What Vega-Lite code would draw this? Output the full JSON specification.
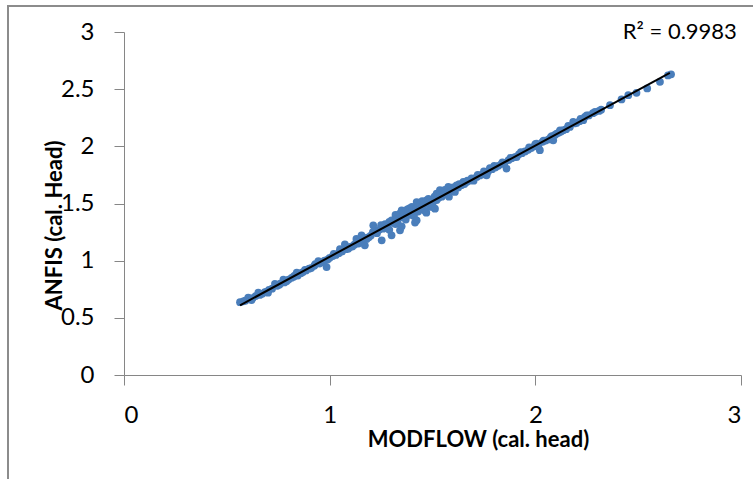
{
  "$schema": "https://vega.github.io/schema/vega-lite/v6.json",
  "autosize": "none",
  "padding": {"left": 124, "top": 32, "right": 12, "bottom": 104},
  "width": 617,
  "height": 343,
  "config": {
    "view": {"stroke": null},
    "font": "Lato",
    "axis": {
      "grid": false,
      "domainColor": "#868686",
      "tickColor": "#868686",
      "tickSize": 10,
      "labelColor": "#000000",
      "labelFont": "Lato",
      "labelFontSize": 24,
      "titleFont": "Lato",
      "titleFontSize": 22,
      "titleFontWeight": "bold",
      "titleColor": "#000000"
    }
  },
  "data": {
    "values": [
      {"modflow": 0.564, "anfis": 0.637}, {"modflow": 0.58, "anfis": 0.645}, {"modflow": 0.59, "anfis": 0.65},
      {"modflow": 0.604, "anfis": 0.676}, {"modflow": 0.615, "anfis": 0.665}, {"modflow": 0.62, "anfis": 0.655}, {"modflow": 0.625, "anfis": 0.672},
      {"modflow": 0.64, "anfis": 0.69}, {"modflow": 0.653, "anfis": 0.72}, {"modflow": 0.66, "anfis": 0.7},
      {"modflow": 0.672, "anfis": 0.71}, {"modflow": 0.685, "anfis": 0.725}, {"modflow": 0.695, "anfis": 0.73}, {"modflow": 0.7, "anfis": 0.72},
      {"modflow": 0.705, "anfis": 0.745}, {"modflow": 0.72, "anfis": 0.755}, {"modflow": 0.734, "anfis": 0.798},
      {"modflow": 0.745, "anfis": 0.78}, {"modflow": 0.755, "anfis": 0.79}, {"modflow": 0.76, "anfis": 0.8}, {"modflow": 0.775, "anfis": 0.834},
      {"modflow": 0.78, "anfis": 0.81}, {"modflow": 0.79, "anfis": 0.82}, {"modflow": 0.8, "anfis": 0.835},
      {"modflow": 0.815, "anfis": 0.85}, {"modflow": 0.825, "anfis": 0.86}, {"modflow": 0.83, "anfis": 0.87}, {"modflow": 0.84, "anfis": 0.895},
      {"modflow": 0.845, "anfis": 0.87}, {"modflow": 0.86, "anfis": 0.89}, {"modflow": 0.87, "anfis": 0.9}, {"modflow": 0.88, "anfis": 0.92},
      {"modflow": 0.885, "anfis": 0.915}, {"modflow": 0.9, "anfis": 0.93}, {"modflow": 0.91, "anfis": 0.935},
      {"modflow": 0.925, "anfis": 0.955}, {"modflow": 0.93, "anfis": 0.97}, {"modflow": 0.945, "anfis": 0.997}, {"modflow": 0.95, "anfis": 0.975},
      {"modflow": 0.96, "anfis": 0.985}, {"modflow": 0.975, "anfis": 1.0}, {"modflow": 0.985, "anfis": 0.944},
      {"modflow": 0.99, "anfis": 1.01}, {"modflow": 1.0, "anfis": 1.025}, {"modflow": 1.015, "anfis": 1.04}, {"modflow": 1.02, "anfis": 1.06},
      {"modflow": 1.03, "anfis": 1.05}, {"modflow": 1.045, "anfis": 1.065}, {"modflow": 1.05, "anfis": 1.1},
      {"modflow": 1.06, "anfis": 1.08}, {"modflow": 1.07, "anfis": 1.1}, {"modflow": 1.074, "anfis": 1.143}, {"modflow": 1.08, "anfis": 1.1},
      {"modflow": 1.09, "anfis": 1.105}, {"modflow": 1.1, "anfis": 1.12}, {"modflow": 1.11, "anfis": 1.125},
      {"modflow": 1.12, "anfis": 1.14}, {"modflow": 1.13, "anfis": 1.19}, {"modflow": 1.131, "anfis": 1.163},
      {"modflow": 1.14, "anfis": 1.15}, {"modflow": 1.15, "anfis": 1.18}, {"modflow": 1.155, "anfis": 1.222}, {"modflow": 1.16, "anfis": 1.17},
      {"modflow": 1.17, "anfis": 1.2}, {"modflow": 1.171, "anfis": 1.134}, {"modflow": 1.18, "anfis": 1.19}, {"modflow": 1.19, "anfis": 1.205},
      {"modflow": 1.2, "anfis": 1.22}, {"modflow": 1.21, "anfis": 1.25}, {"modflow": 1.212, "anfis": 1.309}, {"modflow": 1.22, "anfis": 1.26},
      {"modflow": 1.23, "anfis": 1.24}, {"modflow": 1.24, "anfis": 1.27}, {"modflow": 1.25, "anfis": 1.31},
      {"modflow": 1.253, "anfis": 1.178}, {"modflow": 1.26, "anfis": 1.28}, {"modflow": 1.27, "anfis": 1.29}, {"modflow": 1.27, "anfis": 1.32},
      {"modflow": 1.28, "anfis": 1.3}, {"modflow": 1.29, "anfis": 1.27}, {"modflow": 1.29, "anfis": 1.34}, {"modflow": 1.301, "anfis": 1.353},
      {"modflow": 1.301, "anfis": 1.222}, {"modflow": 1.31, "anfis": 1.33}, {"modflow": 1.32, "anfis": 1.32},
      {"modflow": 1.32, "anfis": 1.4}, {"modflow": 1.33, "anfis": 1.37}, {"modflow": 1.33, "anfis": 1.34}, {"modflow": 1.34, "anfis": 1.41}, {"modflow": 1.342, "anfis": 1.265},
      {"modflow": 1.35, "anfis": 1.44}, {"modflow": 1.35, "anfis": 1.3}, {"modflow": 1.355, "anfis": 1.38},
      {"modflow": 1.36, "anfis": 1.4}, {"modflow": 1.36, "anfis": 1.43}, {"modflow": 1.37, "anfis": 1.36}, {"modflow": 1.37, "anfis": 1.44}, {"modflow": 1.38, "anfis": 1.42},
      {"modflow": 1.38, "anfis": 1.45}, {"modflow": 1.39, "anfis": 1.4}, {"modflow": 1.39, "anfis": 1.46}, {"modflow": 1.4, "anfis": 1.43}, {"modflow": 1.4, "anfis": 1.47},
      {"modflow": 1.41, "anfis": 1.39}, {"modflow": 1.415, "anfis": 1.333}, {"modflow": 1.42, "anfis": 1.46}, {"modflow": 1.423, "anfis": 1.513},
      {"modflow": 1.423, "anfis": 1.353}, {"modflow": 1.43, "anfis": 1.47}, {"modflow": 1.43, "anfis": 1.43}, {"modflow": 1.44, "anfis": 1.45},
      {"modflow": 1.44, "anfis": 1.5}, {"modflow": 1.45, "anfis": 1.48}, {"modflow": 1.45, "anfis": 1.52}, {"modflow": 1.46, "anfis": 1.44}, {"modflow": 1.46, "anfis": 1.5},
      {"modflow": 1.47, "anfis": 1.42}, {"modflow": 1.471, "anfis": 1.528}, {"modflow": 1.48, "anfis": 1.5}, {"modflow": 1.48, "anfis": 1.54},
      {"modflow": 1.49, "anfis": 1.47}, {"modflow": 1.49, "anfis": 1.53}, {"modflow": 1.5, "anfis": 1.52}, {"modflow": 1.5, "anfis": 1.49}, {"modflow": 1.51, "anfis": 1.56}, {"modflow": 1.512, "anfis": 1.455},
      {"modflow": 1.52, "anfis": 1.587}, {"modflow": 1.52, "anfis": 1.53}, {"modflow": 1.53, "anfis": 1.55}, {"modflow": 1.536, "anfis": 1.616}, {"modflow": 1.54, "anfis": 1.59},
      {"modflow": 1.545, "anfis": 1.56}, {"modflow": 1.55, "anfis": 1.6}, {"modflow": 1.555, "anfis": 1.58}, {"modflow": 1.56, "anfis": 1.62},
      {"modflow": 1.565, "anfis": 1.59}, {"modflow": 1.57, "anfis": 1.6}, {"modflow": 1.577, "anfis": 1.645}, {"modflow": 1.58, "anfis": 1.56},
      {"modflow": 1.585, "anfis": 1.6}, {"modflow": 1.59, "anfis": 1.63}, {"modflow": 1.595, "anfis": 1.62}, {"modflow": 1.6, "anfis": 1.64},
      {"modflow": 1.609, "anfis": 1.601}, {"modflow": 1.61, "anfis": 1.63}, {"modflow": 1.617, "anfis": 1.659}, {"modflow": 1.625, "anfis": 1.64}, {"modflow": 1.63, "anfis": 1.67},
      {"modflow": 1.64, "anfis": 1.66}, {"modflow": 1.65, "anfis": 1.69}, {"modflow": 1.655, "anfis": 1.67}, {"modflow": 1.666, "anfis": 1.688}, {"modflow": 1.67, "anfis": 1.7},
      {"modflow": 1.68, "anfis": 1.7}, {"modflow": 1.69, "anfis": 1.72}, {"modflow": 1.695, "anfis": 1.71}, {"modflow": 1.7, "anfis": 1.7}, {"modflow": 1.715, "anfis": 1.732}, {"modflow": 1.72, "anfis": 1.75},
      {"modflow": 1.73, "anfis": 1.745}, {"modflow": 1.745, "anfis": 1.755}, {"modflow": 1.75, "anfis": 1.78}, {"modflow": 1.76, "anfis": 1.77}, {"modflow": 1.763, "anfis": 1.747},
      {"modflow": 1.77, "anfis": 1.78}, {"modflow": 1.779, "anfis": 1.81}, {"modflow": 1.79, "anfis": 1.8}, {"modflow": 1.8, "anfis": 1.83},
      {"modflow": 1.805, "anfis": 1.815}, {"modflow": 1.82, "anfis": 1.83}, {"modflow": 1.835, "anfis": 1.845}, {"modflow": 1.84, "anfis": 1.86},
      {"modflow": 1.85, "anfis": 1.855}, {"modflow": 1.86, "anfis": 1.806}, {"modflow": 1.87, "anfis": 1.88}, {"modflow": 1.88, "anfis": 1.9},
      {"modflow": 1.885, "anfis": 1.895}, {"modflow": 1.9, "anfis": 1.905}, {"modflow": 1.909, "anfis": 1.907},
      {"modflow": 1.92, "anfis": 1.93}, {"modflow": 1.93, "anfis": 1.95}, {"modflow": 1.935, "anfis": 1.94}, {"modflow": 1.95, "anfis": 1.955},
      {"modflow": 1.965, "anfis": 1.97}, {"modflow": 1.97, "anfis": 1.99}, {"modflow": 1.98, "anfis": 1.985}, {"modflow": 1.995, "anfis": 2.0}, {"modflow": 2.0, "anfis": 2.02},
      {"modflow": 2.006, "anfis": 2.024}, {"modflow": 2.015, "anfis": 2.01}, {"modflow": 2.022, "anfis": 1.966},
      {"modflow": 2.035, "anfis": 2.04}, {"modflow": 2.04, "anfis": 2.05}, {"modflow": 2.05, "anfis": 2.05}, {"modflow": 2.065, "anfis": 2.06},
      {"modflow": 2.075, "anfis": 2.08}, {"modflow": 2.08, "anfis": 2.09}, {"modflow": 2.087, "anfis": 2.053}, {"modflow": 2.095, "anfis": 2.1},
      {"modflow": 2.104, "anfis": 2.112}, {"modflow": 2.115, "anfis": 2.12}, {"modflow": 2.12, "anfis": 2.14}, {"modflow": 2.125, "anfis": 2.13},
      {"modflow": 2.136, "anfis": 2.141}, {"modflow": 2.15, "anfis": 2.15}, {"modflow": 2.16, "anfis": 2.18}, {"modflow": 2.168, "anfis": 2.17},
      {"modflow": 2.184, "anfis": 2.214}, {"modflow": 2.19, "anfis": 2.2}, {"modflow": 2.2, "anfis": 2.205}, {"modflow": 2.215, "anfis": 2.22}, {"modflow": 2.22, "anfis": 2.24},
      {"modflow": 2.233, "anfis": 2.229}, {"modflow": 2.241, "anfis": 2.258}, {"modflow": 2.25, "anfis": 2.27}, {"modflow": 2.26, "anfis": 2.27},
      {"modflow": 2.28, "anfis": 2.29}, {"modflow": 2.29, "anfis": 2.301}, {"modflow": 2.31, "anfis": 2.31}, {"modflow": 2.32, "anfis": 2.32}, {"modflow": 2.363, "anfis": 2.36},
      {"modflow": 2.419, "anfis": 2.41}, {"modflow": 2.452, "anfis": 2.447}, {"modflow": 2.492, "anfis": 2.468},
      {"modflow": 2.544, "anfis": 2.506}, {"modflow": 2.606, "anfis": 2.564}, {"modflow": 2.645, "anfis": 2.62},
      {"modflow": 2.66, "anfis": 2.63}
    ]
  },
  "layer": [
    {
      "mark": {"type": "rect", "fill": null, "stroke": "#8c8c8c", "strokeWidth": 1.5, "clip": false},
      "encoding": {
        "x": {"datum": -0.564, "type": "quantitative"},
        "x2": {"datum": 3.3},
        "y": {"datum": 3.227, "type": "quantitative"},
        "y2": {"datum": -1.3}
      }
    },
    {
      "mark": {"type": "point", "filled": true, "size": 60, "color": "#4A7EBB", "opacity": 1},
      "encoding": {
        "x": {
          "field": "modflow", "type": "quantitative",
          "scale": {"domain": [0, 3], "nice": false, "zero": false},
          "axis": {
            "title": "MODFLOW (cal. head)",
            "values": [0, 1, 2, 3],
            "format": "~g",
            "labelPadding": 18,
            "titleX": 354, "titleY": 71, "titleBaseline": "alphabetic", "titleAlign": "center"
          }
        },
        "y": {
          "field": "anfis", "type": "quantitative",
          "scale": {"domain": [0, 3], "nice": false, "zero": false},
          "axis": {
            "title": "ANFIS (cal. Head)",
            "values": [0, 0.5, 1, 1.5, 2, 2.5, 3],
            "format": "~g",
            "labelPadding": 20,
            "titleX": -70, "titleY": 193, "titleAngle": -90, "titleBaseline": "middle", "titleAlign": "center"
          }
        }
      }
    },
    {
      "transform": [{"regression": "anfis", "on": "modflow", "extent": [0.564, 2.654]}],
      "mark": {"type": "line", "color": "#000000", "strokeWidth": 2},
      "encoding": {
        "x": {"field": "modflow", "type": "quantitative"},
        "y": {"field": "anfis", "type": "quantitative"}
      }
    },
    {
      "data": {"values": [{"label": "R² = 0.9983", "px": 2.98, "py": 2.938}]},
      "mark": {"type": "text", "align": "right", "baseline": "alphabetic", "fontSize": 22, "font": "Lato", "color": "#000000"},
      "encoding": {
        "x": {"field": "px", "type": "quantitative"},
        "y": {"field": "py", "type": "quantitative"},
        "text": {"field": "label"}
      }
    }
  ]
}
